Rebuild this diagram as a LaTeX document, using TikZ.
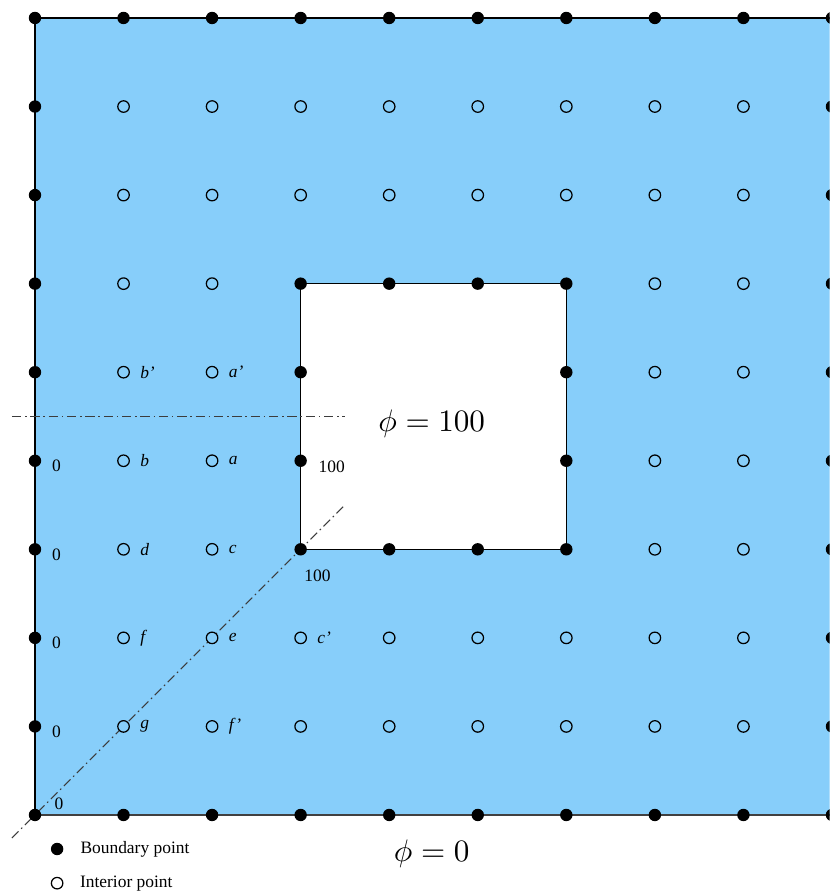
\documentclass[tikz,border=0pt]{standalone}
\usepackage{fontspec}
\setmainfont{Liberation Serif}
\usepackage{xcolor}
\definecolor{gridsky}{RGB}{135,206,250}
\definecolor{griddash}{RGB}{60,60,60}
\usetikzlibrary{positioning}

\begin{document}
\begin{tikzpicture}[
  bpt/.style={circle,fill=black,inner sep=0pt,minimum size=0.14cm},
  ipt/.style={circle,draw=black,fill=gridsky,inner sep=0pt,minimum size=0.13cm,line width=0.4pt},
  ptlbl/.style={inner sep=0pt,font=\fontsize{5.6}{7}\selectfont},
  philbl/.style={inner sep=0pt,font=\fontsize{10}{12}\selectfont},
  cutline/.style={griddash,line width=0.35pt,dash pattern=on 3pt off 1.2pt on 0.5pt off 1.2pt}
]
  \useasboundingbox (-0.395,-0.881) rectangle (8.973,9.203);
  \clip (-0.395,-0.881) rectangle (8.973,9.203);
  % Region and hole
  \fill[gridsky] (0,0) rectangle (9,9);
  \fill[white] (3,3) rectangle (6,6);
  \draw[line width=0.5pt] (0,0) -- (0,9) -- (9,9);
  \draw[line width=0.5pt,black!75] (0,0) -- (9,0);
  \draw[line width=0.5pt] (3,3) rectangle (6,6);
  % Symmetry lines
  \coordinate (h1) at (-0.26,4.5);
  \coordinate (h2) at (3.5,4.5);
  \coordinate (d1) at (-0.26,-0.26);
  \coordinate (d2) at (3.5,3.5);
  \draw[cutline] (h1) -- (h2);
  \draw[cutline] (d1) -- (d2);
  % Boundary points
  \foreach \x in {0,...,9} {
    \node[bpt] (p\x0) at (\x,0) {};
    \node[bpt] (p\x9) at (\x,9) {};
  }
  \foreach \y in {1,...,8} {
    \node[bpt] (p0\y) at (0,\y) {};
    \node[bpt] (p9\y) at (9,\y) {};
  }
  \foreach \x in {3,...,6} {
    \node[bpt] (p\x3) at (\x,3) {};
    \node[bpt] (p\x6) at (\x,6) {};
  }
  \foreach \x in {3,6} {
    \node[bpt] (p\x4) at (\x,4) {};
    \node[bpt] (p\x5) at (\x,5) {};
  }
  % Interior points
  \foreach \y in {1,2,7,8} {
    \foreach \x in {1,...,8} {
      \node[ipt] (p\x\y) at (\x,\y) {};
    }
  }
  \foreach \y in {3,...,6} {
    \foreach \x in {1,2,7,8} {
      \node[ipt] (p\x\y) at (\x,\y) {};
    }
  }
  % Point labels
  \node[ptlbl,right=0.11cm of p15] (lbp) {\textit{b'}};
  \node[ptlbl,right=0.11cm of p25] (lap) {\textit{a'}};
  \node[ptlbl,right=0.11cm of p14] (lb) {\textit{b}};
  \node[ptlbl,right=0.11cm of p24] (la) {\textit{a}};
  \node[ptlbl,right=0.11cm of p13] (ld) {\textit{d}};
  \node[ptlbl,right=0.11cm of p23] (lc) {\textit{c}};
  \node[ptlbl,right=0.11cm of p12] (lf) {\textit{f}};
  \node[ptlbl,right=0.11cm of p22] (le) {\textit{e}};
  \node[ptlbl,right=0.11cm of p32] (lcp) {\textit{c'}};
  \node[ptlbl,right=0.11cm of p11] (lg) {\textit{g}};
  \node[ptlbl,right=0.11cm of p21] (lfp) {\textit{f'}};
  % Boundary values
  \foreach \y in {1,...,4} {
    \node[ptlbl,right=0.11cm of p0\y,yshift=-0.06cm] (z\y) {0};
  }
  \node[ptlbl,above right=0.0cm and 0.16cm of p00] (z0) {0};
  \node[ptlbl,right=0.12cm of p34,yshift=-0.07cm] (h34) {100};
  \node[ptlbl,below right=0.17cm and -0.02cm of p33] (h33) {100};
  \node[philbl] (phiin) at (4.48,4.42) {$\phi = 100$};
  \node[philbl] (phiout) at (4.48,-0.44) {$\phi = 0$};
  % Legend
  \node[bpt] (lgb) at (0.25,-0.384) {};
  \node[ipt,fill=white] (lgi) at (0.25,-0.77) {};
  \node[ptlbl,right=0.18cm of lgb] {Boundary point};
  \node[ptlbl,right=0.18cm of lgi] {Interior point};
\end{tikzpicture}
\end{document}
